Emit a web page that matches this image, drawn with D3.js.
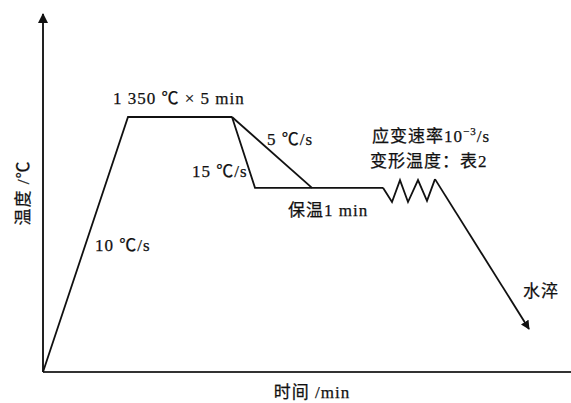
<!DOCTYPE html>
<html>
<head>
<meta charset="utf-8">
<script src="https://cdn.jsdelivr.net/npm/d3@7/dist/d3.min.js"></script>
<style>
  html, body { margin: 0; padding: 0; background: #fff; }
  svg { display: block; }
  text { font-family: "Liberation Serif", "Noto Sans CJK SC", serif; fill: #111;
         stroke: #111; stroke-width: 0.25px; letter-spacing: 1px; }
</style>
</head>
<body>
<script>
// Heat-treatment schedule: time (arbitrary units) vs temperature (°C)
const heatTime  = [0, 85, 189];           // heating at 10 °C/s, then hold at 1350 °C
const heatTemp  = [0, 1350, 1350];
const fastTime  = [189, 212, 340];        // 15 °C/s cooling, then hold 1 min
const fastTemp  = [1350, 975, 975];
const slowTime  = [189, 269];             // 5 °C/s cooling
const slowTemp  = [1350, 975];
const deformTime = [340, 349, 357, 365, 375, 384, 392];   // deformation zig-zag
const deformTemp = [975, 900, 1016, 900, 1016, 906, 1021];
const quenchTime = [392, 486];            // water quench
const quenchTemp = [1021, 228];

const labels = [
  { text: "1 350 ℃ × 5 min", t: 70, T: 1418 },
  { text: "5 ℃/s", t: 224, T: 1202 },
  { text: "15 ℃/s", t: 149, T: 1032 },
  { text: "保温1 min", t: 245, T: 826 },
  { text: "10 ℃/s", t: 52, T: 640 },
  { text: "水淬", t: 480, T: 397 }
];

const W = 571, H = 403;
const x = d3.scaleLinear().domain([0, 528]).range([43, 571]);
const y = d3.scaleLinear().domain([0, 1350]).range([372, 117]);

const svg = d3.select("body").append("svg").attr("width", W).attr("height", H);

const defs = svg.append("defs");
defs.append("marker").attr("id", "arrow")
  .attr("viewBox", "0 0 10 10").attr("refX", 9).attr("refY", 5)
  .attr("markerWidth", 5).attr("markerHeight", 5).attr("orient", "auto")
  .append("path").attr("d", "M0,0 L10,5 L0,10 Z").attr("fill", "#111");

// Axes
svg.append("line")
  .attr("x1", x(0)).attr("y1", y(0)).attr("x2", W).attr("y2", y(0))
  .attr("stroke", "#333").attr("stroke-width", 2.2);
svg.append("line")
  .attr("x1", x(0)).attr("y1", y(0)).attr("x2", x(0)).attr("y2", 14)
  .attr("stroke", "#222").attr("stroke-width", 2)
  .attr("marker-end", "url(#arrow)");

const line = d3.line().x(d => x(d[0])).y(d => y(d[1]));
const seg = (ts, Ts) => d3.zip(ts, Ts);

[[heatTime, heatTemp], [fastTime, fastTemp], [slowTime, slowTemp], [deformTime, deformTemp]]
  .forEach(([ts, Ts]) => {
    svg.append("path").attr("d", line(seg(ts, Ts)))
      .attr("fill", "none").attr("stroke", "#111").attr("stroke-width", 1.8)
      .attr("stroke-linejoin", "miter");
  });
svg.append("path").attr("d", line(seg(quenchTime, quenchTemp)))
  .attr("fill", "none").attr("stroke", "#111").attr("stroke-width", 1.8)
  .attr("marker-end", "url(#arrow)");

// Annotations
labels.forEach(l => {
  svg.append("text").attr("x", x(l.t)).attr("y", y(l.T))
    .attr("font-size", 17).text(l.text);
});

const strain = svg.append("text").attr("x", 372).attr("y", 142).attr("font-size", 17);
strain.append("tspan").text("应变速率10");
strain.append("tspan").attr("font-size", 11).attr("dy", -7).text("−3");
strain.append("tspan").attr("dy", 7).text("/s");
svg.append("text").attr("x", 370).attr("y", 167).attr("font-size", 17).text("变形温度：表2");

// Axis titles
svg.append("text").attr("x", 312).attr("y", 398).attr("text-anchor", "middle")
  .attr("font-size", 17).text("时间 /min");
svg.append("text").attr("transform", "translate(29,193) rotate(-90)")
  .attr("text-anchor", "middle").attr("font-size", 17).text("温度 /℃");
</script>
</body>
</html>
